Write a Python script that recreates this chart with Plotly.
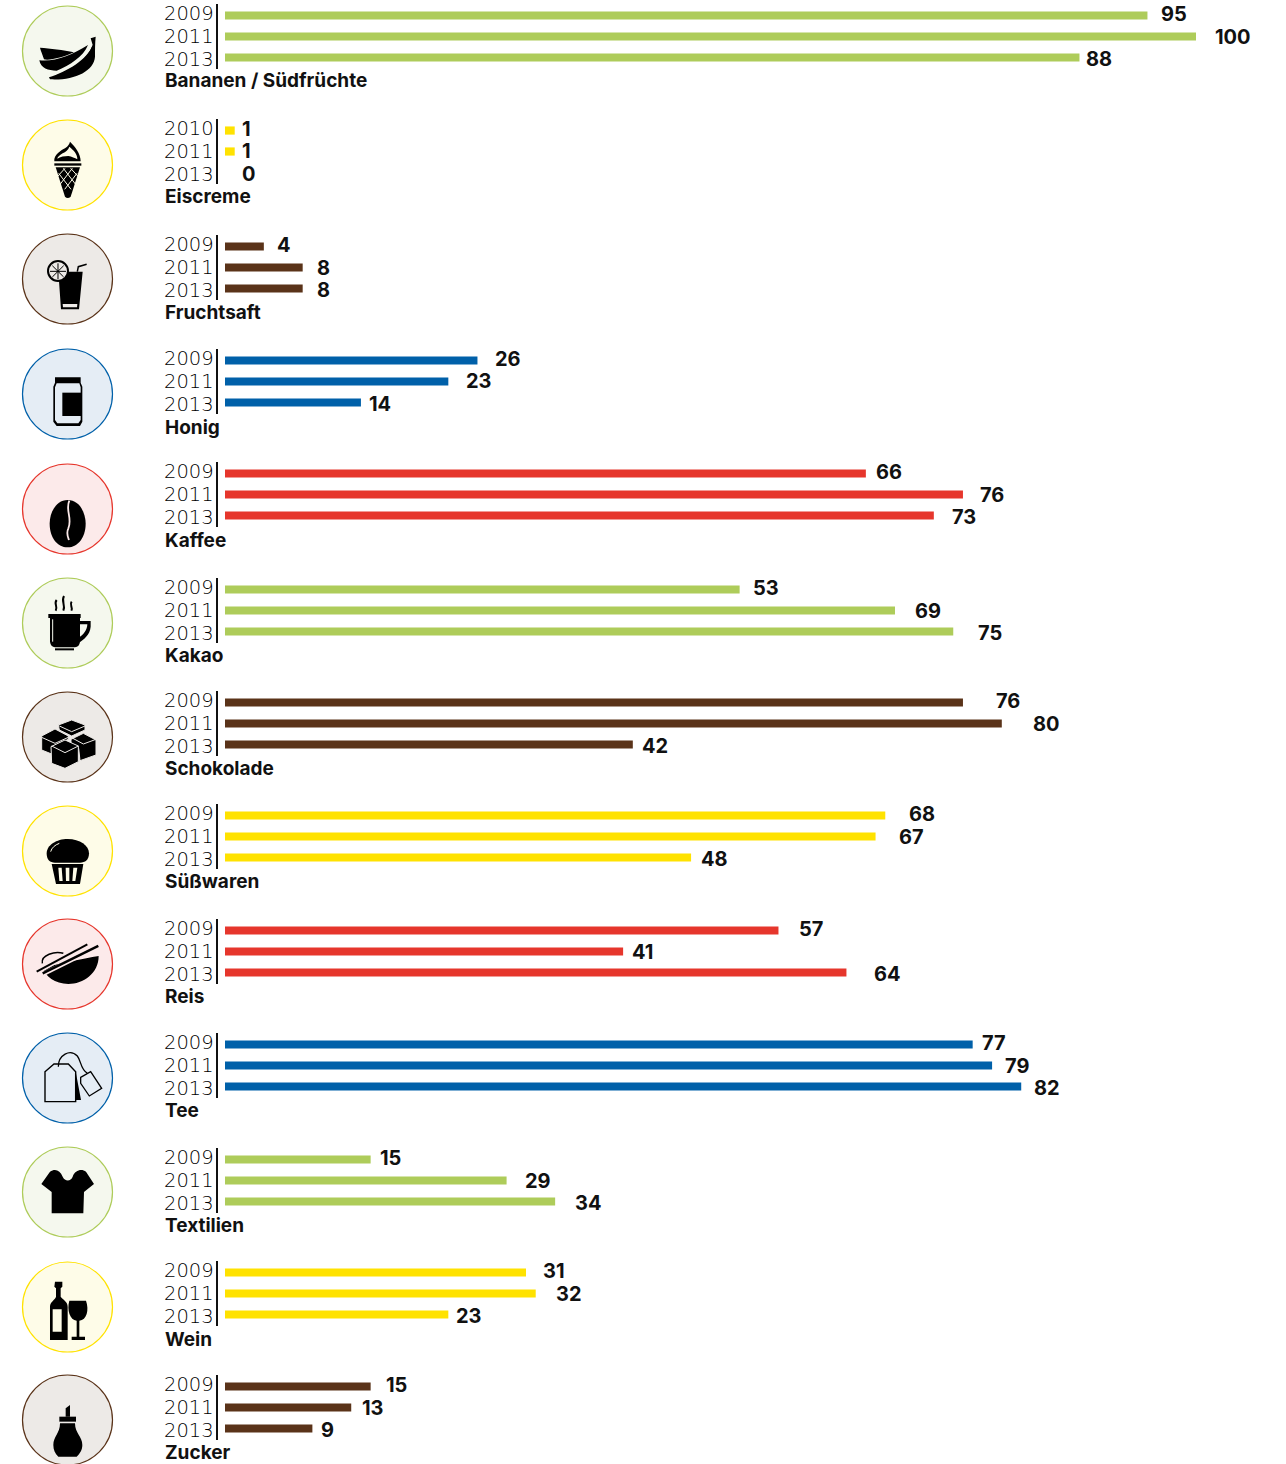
import re
import plotly.graph_objects as go

W, H = 1286, 1464

# ---- data ----
categories = ["Bananen / Südfrüchte", "Eiscreme", "Fruchtsaft", "Honig", "Kaffee", "Kakao", "Schokolade",
              "Süßwaren", "Reis", "Tee", "Textilien", "Wein", "Zucker"]
years_default = ["2009", "2011", "2013"]
years_eiscreme = ["2010", "2011", "2013"]
values_bananen = [95, 100, 88]
values_eiscreme = [1, 1, 0]
values_fruchtsaft = [4, 8, 8]
values_honig = [26, 23, 14]
values_kaffee = [66, 76, 73]
values_kakao = [53, 69, 75]
values_schokolade = [76, 80, 42]
values_suesswaren = [68, 67, 48]
values_reis = [57, 41, 64]
values_tee = [77, 79, 82]
values_textilien = [15, 29, 34]
values_wein = [31, 32, 23]
values_zucker = [15, 13, 9]

all_values = [values_bananen, values_eiscreme, values_fruchtsaft, values_honig, values_kaffee, values_kakao,
              values_schokolade, values_suesswaren, values_reis, values_tee, values_textilien, values_wein,
              values_zucker]
all_years = [years_default, years_eiscreme] + [years_default] * 11

# ---- styling / layout ----
GREEN, YELLOW, BROWN, BLUE, RED = "#aecc5a", "#ffe200", "#5a3319", "#0060a9", "#e6362c"
TINT = {GREEN: "#f5f8ee", YELLOW: "#fefce8", BROWN: "#edeae7", BLUE: "#e5edf5", RED: "#fceaea"}
colors = [GREEN, YELLOW, BROWN, BLUE, RED, GREEN, BROWN, YELLOW, RED, BLUE, GREEN, YELLOW, BROWN]
group_tops = [4, 119, 235, 349, 462, 578, 691, 804, 919, 1033, 1148, 1261, 1375]
circle_cy = [51, 165, 279, 394, 509, 623, 737, 851, 964, 1078, 1192, 1307, 1420]
title_cy = [81, 196, 312, 427, 540, 655, 768, 882, 996, 1110, 1225, 1339, 1452]
GROUP_H = 65
X0_PX, PX_PER_UNIT = 225, 9.71
label_gaps = [[14, 19, 7], [7, 7, 17], [13, 14, 14], [18, 18, 8], [10, 17, 18], [13, 20, 25], [33, 31, 9],
              [24, 23, 10], [21, 9, 28], [9, 13, 13], [9, 18, 20], [17, 20, 8], [15, 11, 9]]
YEAR_FONT = dict(family="DejaVu Sans", size=19.5, color="#000000", weight=200)
VAL_FONT = dict(family="Inter", size=20, color="#111111", weight=700)
CAT_FONT = dict(family="Inter", size=19, color="#111111", weight=700)

fig = go.Figure()
annotations = []
layout_axes = {}

for i, (cat, vals, yrs, col) in enumerate(zip(categories, all_values, all_years, colors)):
    axis = "y" if i == 0 else f"y{i + 1}"
    key = "yaxis" if i == 0 else f"yaxis{i + 1}"
    fig.add_trace(go.Bar(x=vals, y=yrs, orientation="h", marker=dict(color=col, line=dict(width=0)),
                         xaxis="x", yaxis=axis, showlegend=False, hoverinfo="skip", width=0.39))
    top = group_tops[i]
    layout_axes[key] = dict(
        type="category", categoryorder="array", categoryarray=yrs, range=[2.55, -0.55],
        domain=[1 - (top + GROUP_H) / H, 1 - top / H], anchor="free", position=217 / W,
        showline=True, linecolor="#111111", linewidth=1.5, showticklabels=False, ticks="", showgrid=False,
        zeroline=False, fixedrange=True)
    for j, (yr, v) in enumerate(zip(yrs, vals)):
        annotations.append(dict(x=0, y=j, xref="x", yref=axis, text=yr, showarrow=False, xanchor="right",
                                xshift=-11, yshift=[2, 0, -2][j], font=YEAR_FONT, borderpad=0, borderwidth=0))
        annotations.append(dict(x=v, y=j, xref="x", yref=axis, text=str(v), showarrow=False, xanchor="left",
                                xshift=label_gaps[i][j] - 1, yshift=[2, 0, -2][j], font=VAL_FONT, borderpad=0))
    annotations.append(dict(x=164 / W, y=1 - title_cy[i] / H, xref="paper", yref="paper", text=cat, showarrow=False,
                            xanchor="left", yanchor="middle", font=CAT_FONT, borderpad=0))

# ---- pictograms (decorative): paths in 3x crop coordinates, offset by crop origin ----
def P(path, ox, oy):
    nums = iter(re.findall(r"[A-Za-z]|-?\d+\.?\d*", path))
    out, is_x = [], True
    for tok in nums:
        if tok.isalpha():
            out.append(tok)
            is_x = True
        else:
            v = float(tok)
            if is_x:
                out.append(f"{(ox + v / 3) / W:.5f}")
            else:
                out.append(f"{1 - (oy + v / 3) / H:.5f}")
            is_x = not is_x
    return " ".join(out)

shapes = []
for cy, col in zip(circle_cy, colors):
    shapes.append(dict(type="circle", xref="paper", yref="paper", x0=22.5 / W, x1=112.5 / W, y0=1 - (cy + 45) / H,
                       y1=1 - (cy - 45) / H, fillcolor=TINT[col], line=dict(color=col, width=1.2), layer="below"))

def solid(path, oy, fill="#000000"):
    shapes.append(dict(type="path", xref="paper", yref="paper", path=P(path, 0, oy), fillcolor=fill,
                       line=dict(width=0)))

def stroke(path, oy, color="#000000", width=1.5, fill="rgba(0,0,0,0)"):
    shapes.append(dict(type="path", xref="paper", yref="paper", path=P(path, 0, oy), fillcolor=fill,
                       line=dict(color=color, width=width)))

bg = {c: TINT[col] for c, col in zip(categories, colors)}

# Banana
solid("M120 143 C150 145 190 150 222 157 C190 172 150 182 132 178 C128 165 122 152 120 143 Z", 0)
solid("M118 181 C165 186 215 166 264 135 C250 170 210 195 170 212 C145 212 122 205 118 181 Z", 0)
solid("M272 115 L287 110 C285 130 285 150 285 170 C282 215 220 242 150 238 L147 232 C200 215 262 180 278 135 Z", 0)
solid("M278 135 C262 180 220 205 165 228 C200 232 270 215 282 170 Z", 0)
# Ice cream
solid("M210 425 C225 440 242 460 242 484 L163 484 C160 465 185 450 195 445 C205 438 208 432 210 425 Z "
      "M208 440 C205 450 197 455 188 460 C178 466 172 472 172 476 C180 470 195 468 205 468 C215 470 225 474 232 478 C233 462 220 450 208 440 Z", 0)
solid("M163 490 L244 490 L244 497 L163 497 Z", 0)
solid("M167 502 L240 502 L212 590 Q203 598 195 590 Z", 0)
b = bg["Eiscreme"]
for seg in ["M176 520 L213 568", "M190 505 L226 552", "M212 505 L235 530", "M231 520 L194 568", "M217 505 L181 552",
            "M195 505 L172 530"]:
    stroke(seg, 0, b, 1.0)
# Juice
solid("M175 815 L248 815 L237 928 L183 928 Z M188 912 L232 912 L231 922 L189 922 Z", 0)
stroke("M232 815 L235 800 L260 793", 0, width=1.5)
shapes.append(dict(type="circle", xref="paper", yref="paper", x0=48 / W, x1=68 / W, y0=1 - 281 / H, y1=1 - 261 / H,
                   fillcolor=bg["Fruchtsaft"], line=dict(color="#000", width=2)))
for seg in ["M174 790 L174 838", "M150 814 L198 814", "M157 797 L191 831", "M157 831 L191 797"]:
    stroke(seg, 0, width=1.0)
# Honey
solid("M165 112 L242 112 L242 128 L247 140 L247 245 L240 258 L170 258 L160 245 L160 140 L165 128 Z "
      "M170 130 L238 130 L242 142 L242 240 L235 250 L172 250 L165 240 L165 142 Z", 340)
solid("M187 158 L244 158 L244 228 L187 228 Z", 340)
# Coffee
solid("M203 480 C240 480 257 520 257 551 C257 590 235 622 203 622 C170 622 149 590 149 551 C149 515 170 480 203 480 Z", 340)
stroke("M208 482 C195 510 218 535 205 565 C198 580 203 590 207 600", 340, bg["Kaffee"], 1.8)
# Cup
solid("M150 830 L240 830 L240 905 Q238 920 225 922 L165 922 Q152 920 150 905 Z", 340)
solid("M145 822 L242 822 L242 834 L145 834 Z", 340)
solid("M238 843 L272 843 L272 860 C270 885 250 900 236 908 L236 893 C250 885 262 870 262 853 L238 853 Z", 340)
solid("M165 925 L222 925 L222 931 L165 931 Z", 340)
for seg in ["M170 780 C160 792 175 798 167 812", "M192 768 C182 785 198 795 190 812", "M215 785 C207 795 220 800 214 812"]:
    stroke(seg, 340, width=2)
stroke("M158 838 L158 905", 340, bg["Kakao"], 1.0)
# Chocolate
b = bg["Schokolade"]
for cube in ["M175 135 L215 120 L255 135 L255 150 L215 168 L178 150 Z",
             "M125 168 L165 147 L205 168 L205 178 L155 200 L155 222 L125 210 Z",
             "M213 178 L250 160 L288 180 L288 225 L240 242 L236 205 L213 190 Z",
             "M153 200 L195 180 L235 198 L235 245 L195 265 L155 250 Z"]:
    stroke(cube, 680, b, 1.0, fill="#000000")
for seg in ["M155 198 L195 218 L235 198", "M125 172 L165 190 L205 172", "M213 172 L250 192 L288 178",
            "M178 138 L215 155 L255 138"]:
    stroke(seg, 680, b, 1.0)
# Muffin
solid("M140 520 C140 495 170 477 203 477 C240 477 267 497 267 520 C267 540 255 548 240 548 L165 548 C150 548 140 540 140 520 Z", 680)
solid("M155 552 L250 552 L240 612 L168 612 Z M175 563 L185 563 L188 603 L178 603 Z M197 563 L208 563 L208 603 L198 603 Z "
      "M220 563 L232 563 L226 603 L217 603 Z", 680)
stroke("M152 515 C155 503 165 495 178 490", 680, bg["Süßwaren"], 1.0)
# Rice
b = bg["Reis"]
solid("M128 862 C165 855 250 835 296 828 C296 880 250 912 205 912 C165 912 135 890 128 862 Z", 680)
stroke("M127 850 C122 825 165 812 190 820", 680, width=1.5)
stroke("M110 878 L262 792", 680, b, 4)
stroke("M128 883 L295 800", 680, b, 4)
stroke("M110 875 L262 793", 680, width=2)
stroke("M128 880 L295 798", 680, width=2.5)
# Tea
solid("M228 160 L243 240 L228 240 Z", 1020)
stroke("M135 155 L162 132 L205 132 L227 155 L227 245 L135 245 Z", 1020, width=1.4)
stroke("M175 140 C175 105 210 85 232 108 C245 125 240 145 262 160", 1020, width=1.3)
stroke("M242 172 L272 155 L305 205 L268 228 L242 190 Z", 1020, width=1.3)
# Shirt
solid("M150 455 C165 445 180 450 188 470 C195 485 212 485 218 470 C225 450 245 445 258 455 L282 492 L252 516 L250 580 "
      "L155 580 L155 516 L124 492 Z", 1020)
# Wine
solid("M165 785 L187 785 L187 800 L182 805 L182 830 C190 840 203 845 203 860 L203 960 L150 960 L150 860 C150 845 165 840 "
      "168 830 L168 805 L163 800 Z M158 868 L185 868 L185 935 L158 935 Z", 1020)
solid("M208 842 L258 842 C268 870 260 900 238 902 L238 950 L255 950 L255 960 L215 960 L215 950 L230 950 L230 902 "
      "C210 900 200 870 208 842 Z", 1020)
# Sugar
solid("M197 1165 L210 1155 L210 1190 L197 1190 Z", 1020)
solid("M178 1190 L228 1190 L228 1205 L178 1205 Z", 1020)
solid("M180 1210 L225 1210 C225 1240 247 1250 247 1275 C247 1290 240 1300 230 1310 L175 1310 C165 1300 160 1290 160 1275 "
      "C160 1250 180 1240 180 1210 Z", 1020)

fig.update_layout(
    width=W, height=H, margin=dict(l=0, r=0, t=0, b=0), paper_bgcolor="white", plot_bgcolor="white",
    barmode="overlay", showlegend=False, annotations=annotations, shapes=shapes,
    xaxis=dict(domain=[X0_PX / W, 1], range=[0, (W - X0_PX) / PX_PER_UNIT], visible=False, fixedrange=True,
               anchor="free", position=0),
    **layout_axes)

fig.write_html("out.html", config=dict(displayModeBar=False),
               post_script="document.body.style.margin='0';document.body.style.overflow='hidden';")
